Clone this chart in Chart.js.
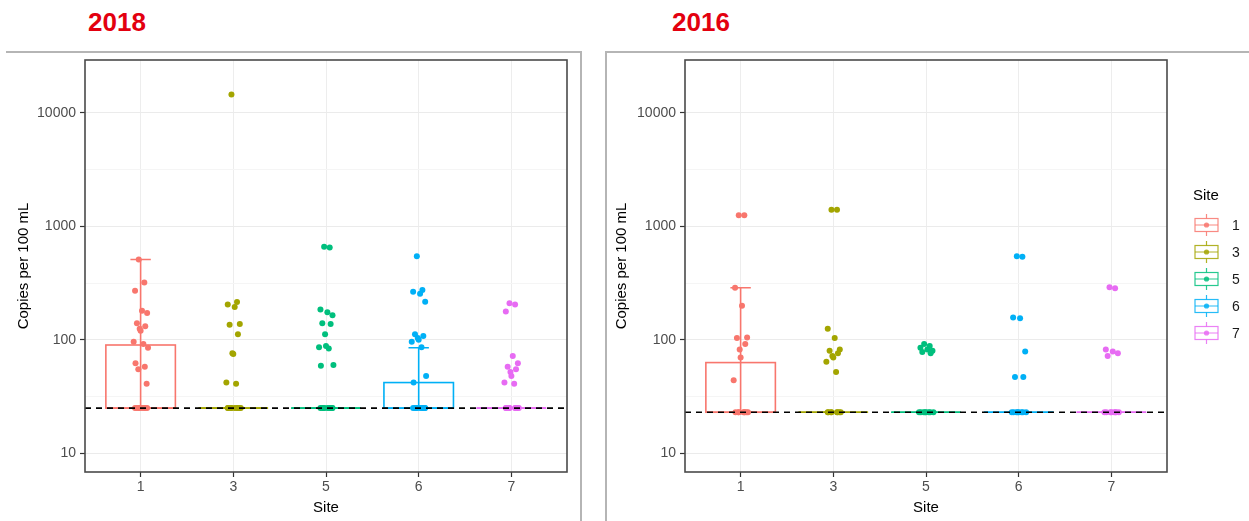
<!DOCTYPE html>
<html><head><meta charset="utf-8">
<script src="https://cdn.jsdelivr.net/npm/chart.js@4.4.0/dist/chart.umd.min.js"></script>
<style>
html,body{margin:0;padding:0;background:#fff;}
body{width:1249px;height:521px;position:relative;overflow:hidden;font-family:"Liberation Sans",Arial,sans-serif;}
.yr{position:absolute;top:9px;font-weight:bold;font-size:26px;line-height:26px;font-family:"Liberation Sans",Arial,sans-serif;color:#e3000f;}
.frame{position:absolute;background:#b5b5b5;}
canvas{position:absolute;top:0;}
</style></head><body>
<div class="yr" style="left:88px">2018</div>
<div class="yr" style="left:672px">2016</div>
<div class="frame" style="left:6px;top:51px;width:576px;height:2px"></div>
<div class="frame" style="left:580px;top:51px;width:2px;height:470px"></div>
<div class="frame" style="left:605px;top:51px;width:644px;height:2px"></div>
<div class="frame" style="left:605px;top:51px;width:2px;height:470px"></div>
<canvas id="c2018" width="582" height="521" style="left:0px"></canvas>
<canvas id="c2016" width="667" height="521" style="left:582px"></canvas>
<script>
// ---------- data ----------
const sites = ['1', '3', '5', '6', '7'];
const yTickLabels = [10, 100, 1000, 10000];
const yLimits = [10, 20000];

const lod2018 = 25;
const lod2016 = 23;

const y2018_site1 = [510, 320, 270, 180, 172, 140, 132, 125, 120, 96, 92, 85, 62, 58, 55, 41, 25, 25, 25, 25, 25, 25, 25, 25];
const y2018_site3 = [14500, 215, 205, 195, 138, 136, 112, 76, 75, 42, 41, 25, 25, 25, 25, 25, 25, 25, 25, 25];
const y2018_site5 = [660, 650, 185, 175, 165, 140, 138, 112, 88, 86, 84, 60, 59, 25, 25, 25, 25, 25, 25, 25, 25, 25];
const y2018_site6 = [545, 275, 265, 255, 217, 112, 108, 104, 100, 96, 86, 48, 42, 25, 25, 25, 25, 25, 25, 25, 25, 25];
const y2018_site7 = [210, 205, 178, 72, 62, 58, 55, 52, 48, 42, 41, 25, 25, 25, 25, 25, 25, 25, 25];

const y2016_site1 = [1250, 1250, 288, 200, 105, 104, 92, 82, 70, 44, 23, 23, 23, 23, 23, 23, 23, 23];
const y2016_site3 = [1400, 1400, 125, 104, 82, 80, 76, 72, 70, 64, 52, 23, 23, 23, 23, 23, 23, 23, 23];
const y2016_site5 = [92, 88, 85, 82, 80, 78, 76, 23, 23, 23, 23, 23, 23, 23, 23];
const y2016_site6 = [545, 540, 157, 155, 79, 47, 47, 23, 23, 23, 23, 23, 23, 23, 23];
const y2016_site7 = [290, 285, 82, 79, 76, 72, 23, 23, 23, 23, 23, 23, 23, 23];

// box-plot summaries (per site)
const q1_2018 = [25, 25, 25, 25, 25];
const median_2018 = [25, 25, 25, 25, 25];
const q3_2018 = [90, 25, 25, 42, 25];
const whiskerLow_2018 = [25, 25, 25, 25, 25];
const whiskerHigh_2018 = [510, 25, 25, 85, 25];

const q1_2016 = [23, 23, 23, 23, 23];
const median_2016 = [23, 23, 23, 23, 23];
const q3_2016 = [63, 23, 23, 23, 23];
const whiskerLow_2016 = [23, 23, 23, 23, 23];
const whiskerHigh_2016 = [288, 23, 23, 23, 23];

// ---------- style ----------
const siteColors = ['#F8766D', '#A3A500', '#00BF7D', '#00B0F6', '#E76BF3'];
const jitterPattern = [-0.02, 0.04, -0.06, 0.015, 0.07, -0.04, 0.05, -0.01, 0.0, -0.075, 0.03, 0.08, -0.055, 0.045, -0.025, 0.065];
const FONT = '"Liberation Sans", Arial, sans-serif';

function logExpand(lims) {
  const a = Math.log10(lims[0]), b = Math.log10(lims[1]);
  const e = (b - a) * 0.05;
  return [Math.pow(10, a - e), Math.pow(10, b + e)];
}
const yRange = logExpand(yLimits);
const yMinor = yTickLabels.slice(0, -1).map(v => v * Math.sqrt(10));

const boxPlugin = {
  id: 'boxes',
  beforeDatasetsDraw(chart) {
    const o = chart.options.plugins.boxes;
    const {ctx, scales: {x, y}} = chart;
    ctx.save();
    ctx.lineWidth = 1.6;
    sites.forEach((s, i) => {
      const xc = x.getPixelForValue(i);
      const hw = x.getPixelForValue(i + 0.375) - xc;
      const cw = x.getPixelForValue(i + 0.11) - xc;
      ctx.strokeStyle = siteColors[i];
      const yl = y.getPixelForValue(o.wlo[i]), yh = y.getPixelForValue(o.whi[i]);
      ctx.beginPath();
      ctx.moveTo(xc, yl); ctx.lineTo(xc, yh);
      ctx.moveTo(xc - cw, yh); ctx.lineTo(xc + cw, yh);
      ctx.moveTo(xc - cw, yl); ctx.lineTo(xc + cw, yl);
      ctx.stroke();
      const y1 = y.getPixelForValue(o.q1[i]), y3 = y.getPixelForValue(o.q3[i]);
      const ym = y.getPixelForValue(o.med[i]);
      ctx.strokeRect(xc - hw, y3, 2 * hw, y1 - y3);
      ctx.beginPath();
      ctx.moveTo(xc - hw, ym); ctx.lineTo(xc + hw, ym);
      ctx.stroke();
    });
    ctx.restore();
  },
  afterDatasetsDraw(chart) {
    const o = chart.options.plugins.boxes;
    const {ctx, chartArea: ca, scales: {y}} = chart;
    const yy = y.getPixelForValue(o.lod);
    ctx.save();
    ctx.strokeStyle = '#000';
    ctx.lineWidth = 1.7;
    ctx.setLineDash([6, 5]);
    ctx.beginPath();
    ctx.moveTo(ca.left, yy); ctx.lineTo(ca.right, yy);
    ctx.stroke();
    ctx.restore();
  },
  afterDraw(chart) {
    const o = chart.options.plugins.boxes;
    const {ctx, chartArea: ca} = chart;
    ctx.save();
    ctx.strokeStyle = '#4a4a4a';
    ctx.lineWidth = 1.6;
    ctx.strokeRect(ca.left, ca.top, ca.right - ca.left, ca.bottom - ca.top);
    if (o.legend) {
      const lx = o.legend.x, ty = o.legend.y;
      ctx.fillStyle = '#000';
      ctx.font = '15px ' + FONT;
      ctx.textBaseline = 'middle';
      ctx.textAlign = 'left';
      ctx.fillText('Site', lx - 2, ty);
      sites.forEach((s, i) => {
        const cy = ty + 29 + i * 27;
        const c = siteColors[i];
        ctx.strokeStyle = c; ctx.fillStyle = c; ctx.lineWidth = 1.2;
        ctx.globalAlpha = 0.85;
        ctx.beginPath();
        ctx.moveTo(lx + 11.5, cy - 11); ctx.lineTo(lx + 11.5, cy - 6.5);
        ctx.moveTo(lx + 11.5, cy + 6.5); ctx.lineTo(lx + 11.5, cy + 11);
        ctx.moveTo(lx, cy); ctx.lineTo(lx + 23, cy);
        ctx.stroke();
        ctx.strokeRect(lx, cy - 6.5, 23, 13);
        ctx.beginPath(); ctx.arc(lx + 11.5, cy, 2.6, 0, Math.PI * 2); ctx.fill();
        ctx.globalAlpha = 1;
        ctx.fillStyle = '#1a1a1a';
        ctx.font = '14px ' + FONT;
        ctx.fillText(s, lx + 37, cy + 1);
      });
    }
    ctx.restore();
  }
};

function makeChart(id, seriesList, stats, yAxisLeft, rightPad, titlePad, legend) {
  const datasets = seriesList.map((vals, i) => ({
    label: sites[i],
    data: vals.map((v, j) => ({x: i + jitterPattern[j % jitterPattern.length], y: v})),
    backgroundColor: siteColors[i],
    borderColor: siteColors[i],
    borderWidth: 0,
    pointRadius: 3,
    pointHoverRadius: 3
  }));
  return new Chart(document.getElementById(id), {
    type: 'scatter',
    data: {datasets},
    options: {
      responsive: false,
      animation: false,
      events: [],
      layout: {padding: {left: 0, right: rightPad, top: 60, bottom: 0}},
      plugins: {
        legend: {display: false},
        tooltip: {enabled: false},
        boxes: Object.assign({}, stats, {legend})
      },
      scales: {
        x: {
          type: 'linear', min: -0.6, max: 4.6,
          afterBuildTicks: s => { s.ticks = sites.map((_, i) => ({value: i})); },
          afterFit: s => { s.height = 49; },
          ticks: {autoSkip: false, padding: 2, color: '#4d4d4d', font: {family: FONT, size: 14},
                  callback: v => sites[v]},
          grid: {color: '#ededed', lineWidth: 1, tickLength: 5, tickColor: '#333', tickWidth: 1.2},
          border: {display: false},
          title: {display: true, text: 'Site', color: '#000', font: {family: FONT, size: 15},
                  padding: {top: 0, bottom: 4}}
        },
        y: {
          type: 'logarithmic', min: yRange[0], max: yRange[1],
          afterBuildTicks: s => {
            s.ticks = yTickLabels.concat(yMinor).sort((a, b) => a - b).map(v => ({value: v}));
          },
          afterFit: s => { s.width = yAxisLeft; },
          ticks: {autoSkip: false, padding: 4, color: '#4d4d4d', font: {family: FONT, size: 14},
                  callback: v => yTickLabels.includes(v) ? String(v) : ''},
          grid: {
            color: c => yTickLabels.includes(c.tick && c.tick.value) ? '#ebebeb' : '#f5f5f5',
            tickColor: c => yTickLabels.includes(c.tick && c.tick.value) ? '#333' : 'rgba(0,0,0,0)',
            tickLength: 5, tickWidth: 1.2
          },
          border: {display: false},
          title: {display: true, text: 'Copies per 100 mL', color: '#000', font: {family: FONT, size: 15},
                  padding: {top: titlePad, bottom: 0}}
        }
      }
    },
    plugins: [boxPlugin]
  });
}

makeChart('c2018',
  [y2018_site1, y2018_site3, y2018_site5, y2018_site6, y2018_site7],
  {q1: q1_2018, med: median_2018, q3: q3_2018, wlo: whiskerLow_2018, whi: whiskerHigh_2018, lod: lod2018},
  85, 15, 15, null);

makeChart('c2016',
  [y2016_site1, y2016_site3, y2016_site5, y2016_site6, y2016_site7],
  {q1: q1_2016, med: median_2016, q3: q3_2016, wlo: whiskerLow_2016, whi: whiskerHigh_2016, lod: lod2016},
  103, 82, 31, {x: 613, y: 196});
</script>
</body></html>
